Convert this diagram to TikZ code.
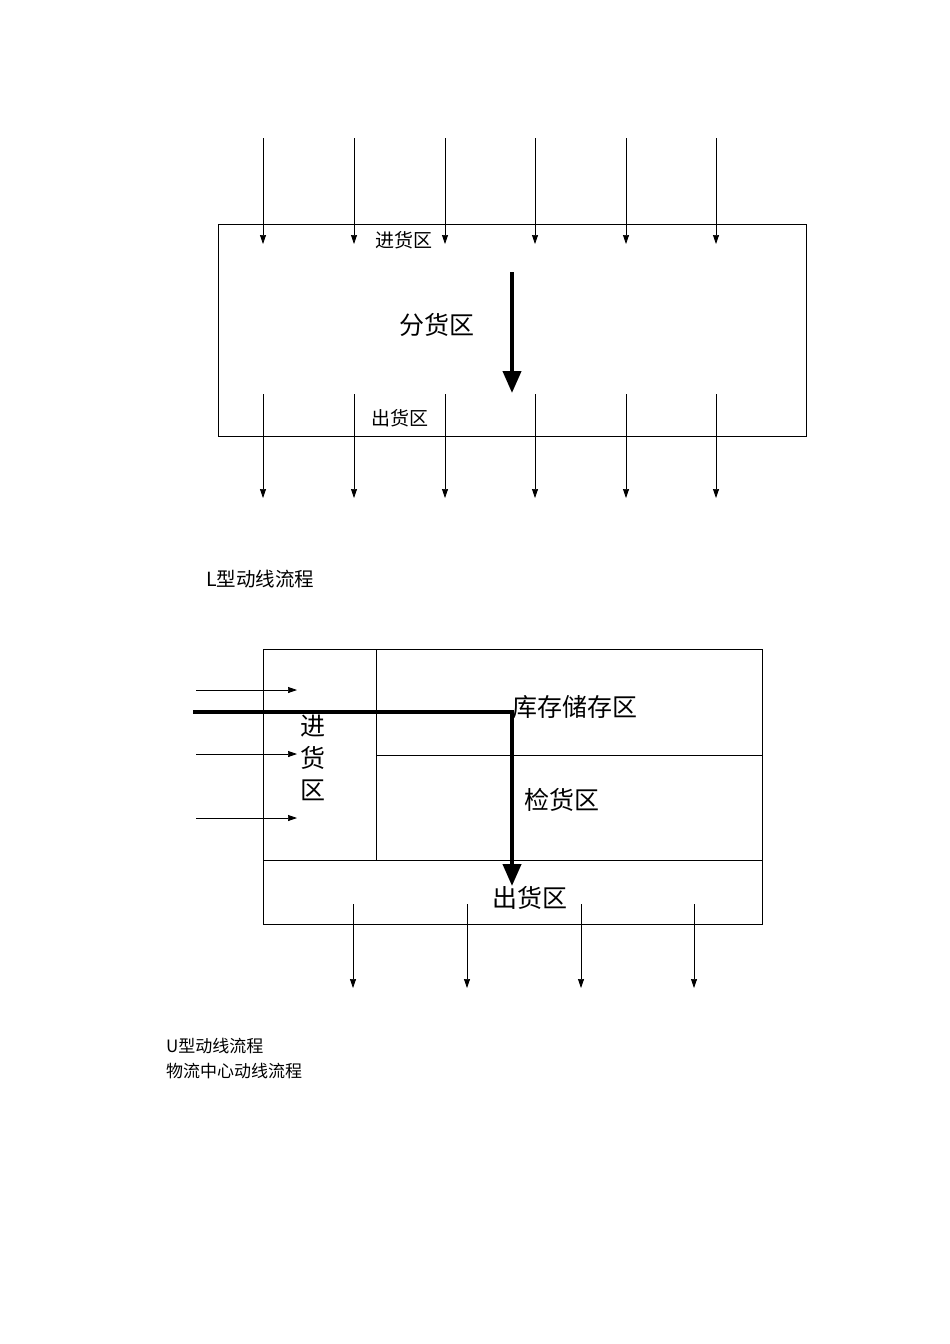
\documentclass[tikz,border=0pt]{standalone}
\usepackage{fontspec}
\newfontfamily\cjk{Noto Sans CJK SC}
\usetikzlibrary{arrows.meta}
\begin{document}
\begin{tikzpicture}[x=1pt,y=-1pt,
  thin arr/.style={-{Triangle[length=9pt,width=6pt]},line width=0.7pt},
  thick arr/.style={line width=4pt,-{Triangle[length=22pt,width=18pt]}},
  box/.style={draw,line width=0.8pt},
  lbl/.style={font=\cjk\fontsize{19}{19}\selectfont,inner sep=0pt},
  big/.style={font=\cjk\fontsize{25}{25}\selectfont,inner sep=0pt},
  captxt/.style={font=\cjk\fontsize{17}{17}\selectfont,inner sep=0pt,anchor=west},
  capbig/.style={font=\cjk\fontsize{19.5}{19.5}\selectfont,inner sep=0pt,anchor=west}]
\useasboundingbox (0,0) rectangle (950,1344);
% L layout
\draw[box] (218,224) rectangle (806,436);
\foreach \x in {263,354,445,535,626,716}{
  \coordinate (t\x) at (\x,138); \coordinate (te\x) at (\x,244);
  \draw[thin arr] (t\x) -- (te\x);
  \coordinate (b\x) at (\x,394); \coordinate (be\x) at (\x,498);
  \draw[thin arr] (b\x) -- (be\x);}
\coordinate (ka) at (512,272); \coordinate (kb) at (512,393);
\draw[thick arr] (ka) -- (kb);
\node[lbl] (jin1) at (404,240) {进货区};
\node[big] (fen) at (437,325) {分货区};
\node[lbl] (chu1) at (400,418) {出货区};
\node[capbig] (capL) at (206,579) {L型动线流程};
% U layout
\draw[box] (263,649) rectangle (762,924);
\draw[box] (376,649) -- (376,860);
\draw[box] (376,755) -- (762,755);
\draw[box] (263,860) -- (762,860);
\foreach \y in {690,754,818}{
  \coordinate (l\y) at (196,\y); \coordinate (le\y) at (297,\y);
  \draw[thin arr] (l\y) -- (le\y);}
\coordinate (ua) at (193,712); \coordinate (ub) at (512,712); \coordinate (uc) at (512,886);
\draw[line width=4pt] (ua) -- (ub);
\draw[thick arr] (512,710) -- (uc);
\node[big] (ku) at (575,707) {库存储存区};
\node[big] (j1) at (313,726) {进};
\node[big] (j2) at (313,758) {货};
\node[big] (j3) at (313,790) {区};
\node[big] (jian) at (562,800) {检货区};
\node[big] (chu2) at (530,898) {出货区};
\foreach \x in {353,467,581,694}{
  \coordinate (d\x) at (\x,904); \coordinate (de\x) at (\x,988);
  \draw[thin arr] (d\x) -- (de\x);}
\node[captxt] (capU) at (166,1046) {U型动线流程};
\node[captxt] (capW) at (166,1071) {物流中心动线流程};
\end{tikzpicture}
\end{document}
